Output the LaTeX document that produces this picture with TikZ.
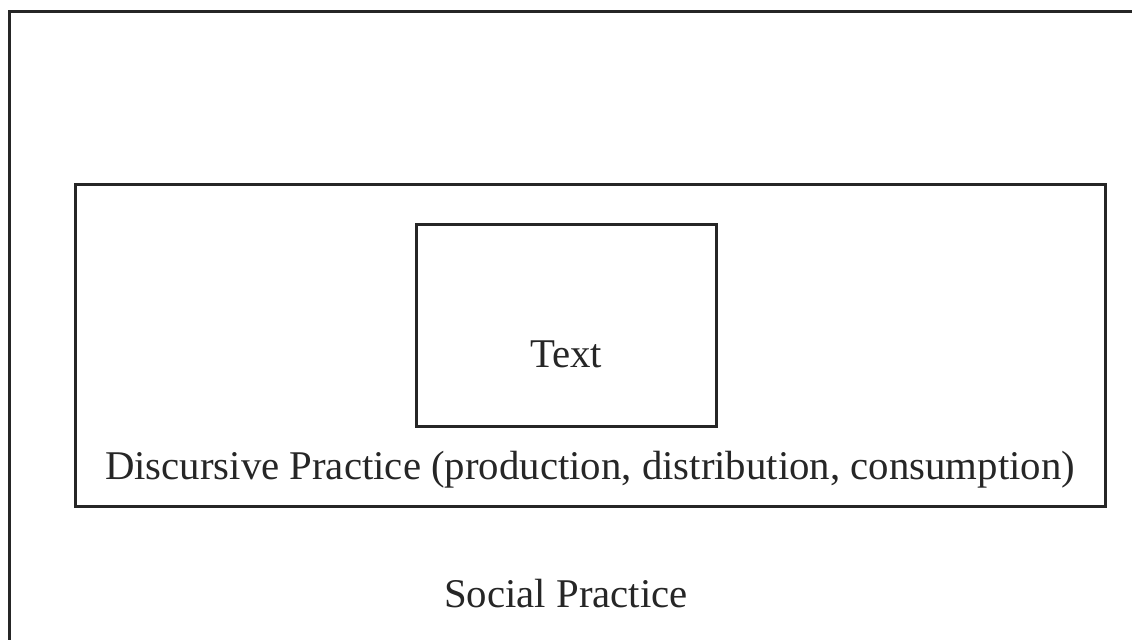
\documentclass[tikz,border=0pt]{standalone}
\usepackage{fontspec}
\setmainfont{Liberation Serif}
\usetikzlibrary{positioning}

\tikzset{
  frame/.style={draw=black!85, line width=1.5pt},
  label/.style={font=\fontsize{20.4}{24}\selectfont, text=black!85}
}

\begin{document}
\begin{tikzpicture}[x=0.5pt,y=-0.5pt]

\useasboundingbox (0,0) rectangle (1132,640);
\clip (0,0) rectangle (1132,640);

% social practice
\draw[frame] (9.5,12) rectangle (1160,670);
% discursive practice
\coordinate (dpNW) at (75,185);
\coordinate (dpSE) at (1105,507);
\draw[frame] (dpNW) rectangle (dpSE);
% text
\node[frame, minimum width=150pt, minimum height=101pt, inner sep=0pt] (txt) at (566,325.5) {};

\node[label] (txtlabel) at (566,368) [anchor=base] {Text};
\node[label] (dplabel) at (590,480) [anchor=base] {Discursive Practice (production, distribution, consumption)};
\node[label] (splabel) at (566,608) [anchor=base] {Social Practice};

\end{tikzpicture}
\end{document}
